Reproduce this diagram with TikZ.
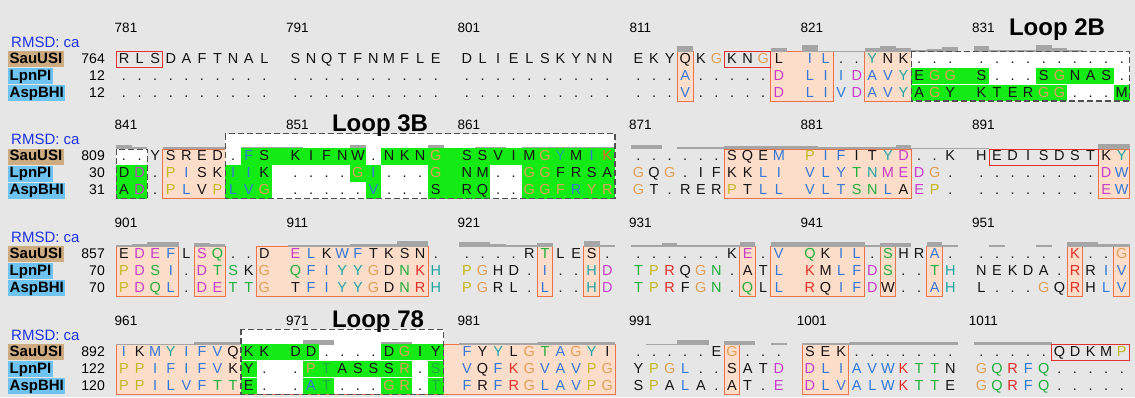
\documentclass[tikz,border=0pt]{standalone}
\usepackage{fontspec}
\setmainfont{Liberation Sans}
\definecolor{bg}{RGB}{230,230,230}
\definecolor{ck}{RGB}{20,20,20}
\definecolor{cb}{RGB}{50,120,215}
\definecolor{cm}{RGB}{200,60,200}
\definecolor{cr}{RGB}{225,45,40}
\definecolor{cg}{RGB}{30,175,60}
\definecolor{co}{RGB}{225,160,90}
\definecolor{cy}{RGB}{195,185,30}
\definecolor{ct}{RGB}{30,165,160}
\definecolor{ce}{RGB}{230,100,40}
\definecolor{peach}{RGB}{252,221,202}
\definecolor{peachline}{RGB}{235,115,75}
\definecolor{redline}{RGB}{225,50,50}
\definecolor{loopgreen}{RGB}{20,235,20}
\definecolor{bargray}{RGB}{165,165,165}
\definecolor{mytan}{RGB}{205,172,130}
\definecolor{skyb}{RGB}{110,195,240}
\definecolor{rmsdblue}{RGB}{30,50,225}
\definecolor{dashgray}{RGB}{80,80,80}
\makeatletter
\newcount\rescol
\def\seqrow#1#2#3#4{\rescol=0 \def\seq@y{#2}\def\seq@id{#1}\seq@loop#3\@end#4kkkkkkkkkk\@end}
\def\seq@loop#1#2\@end#3#4\@end{\seq@put{#1}{#3}\advance\rescol by 1 \ifx\relax#2\relax\else\seq@loop#2\@end#4\@end\fi}
\def\seq@put#1#2{\pgfmathsetmacro\seq@x{124+15.59*(\the\rescol+floor(\the\rescol/10))}\edef\seq@nm{\seq@id x\the\rescol}\node[res,text=c#2] (\seq@nm) at (\seq@x,\seq@y) {#1};}
\makeatother
\newcommand\spanlr[2]{\pgfmathsetmacro\spL{124+15.59*(#1+floor(#1/10))-7.8}\pgfmathsetmacro\spR{124+15.59*(#2+floor(#2/10))+7.8}}
\newcommand\pbox[3]{\spanlr{#2}{#3}\path[peachbox] (\spL,#1+51.5) rectangle (\spR,#1+101);}
\newcommand\rbox[3]{\spanlr{#2}{#3}\draw[redbox] (\spL,#1+51.5) rectangle (\spR,#1+67.5);}
\newcommand\gband[4]{\spanlr{#3}{#4}\fill[loopgreen] (\spL,#1+#2-12.5) rectangle (\spR,#1+#2+3.8);}
\newcommand\loopfill[4]{\spanlr{#2}{#3}\fill[white] (\spL,#1+#4) rectangle (\spR,#1+101);}
\newcommand\loopdash[4]{\spanlr{#2}{#3}\draw[loopline] (\spL,#1+#4) rectangle (\spR,#1+101);}
\newcommand\rmsdbar[4]{\spanlr{#2}{#3}\fill[bargray] (\spL,#1+51.5-#4) rectangle (\spR,#1+51.5);}
\newcommand\linehead[6]{%
  \foreach \k in {0,...,5}{\pgfmathtruncatemacro\rnum{#2+10*\k}\node[ruler] (ru#6\k) at ({126+171.49*\k},#1+32) {\rnum};}%
  \node[rmsd] (rm#6) at (11,#1+47) {RMSD: ca};
  \node[namebox,fill=mytan] (ns#6) at (8,#1+63) {SauUSI};
  \node[namebox,fill=skyb] (nl#6) at (8,#1+80) {LpnPI};
  \node[namebox,fill=skyb] (na#6) at (8,#1+97) {AspBHI};
  \node[numlab] (us#6) at (105,#1+63) {#3};
  \node[numlab] (ul#6) at (105,#1+80) {#4};
  \node[numlab] (ua#6) at (105,#1+97) {#5};}
\begin{document}
\begin{tikzpicture}[x=1pt,y=-1pt,
  res/.style={anchor=base,inner sep=0pt,font=\fontsize{14.5}{16}\selectfont},
  ruler/.style={anchor=base,inner sep=0pt,font=\fontsize{13.5}{16}\selectfont},
  looplab/.style={anchor=base,inner sep=0pt,font=\fontsize{24}{28}\selectfont\bfseries},
  namebox/.style={anchor=base west,inner xsep=1.5pt,inner ysep=1pt,text height=11pt,text depth=3pt,font=\fontsize{15}{17}\selectfont\bfseries},
  numlab/.style={anchor=base east,inner sep=0pt,font=\fontsize{14}{16}\selectfont},
  rmsd/.style={anchor=base west,inner sep=0pt,text=rmsdblue,font=\fontsize{15}{17}\selectfont},
  peachbox/.style={fill=peach,draw=peachline,line width=1pt},
  redbox/.style={draw=redline,line width=1pt},
  loopline/.style={draw=dashgray,line width=1.2pt,dash pattern=on 6pt off 3pt}]
\useasboundingbox (0,0) rectangle (1135,397);
\fill[bg] (0,0) rectangle (1135,397);
% ================= LINE 1 =================
\linehead{0}{781}{764}{12}{12}{a}
\pbox{0}{33}{33}\pbox{0}{39}{41}\pbox{0}{44}{46}
\loopfill{0}{47}{59}{51.5}
\foreach \a/\b/\h in {33/33/6,39/39/4,40/40/6.5,41/43/1,44/44/4,45/45/6,46/46/4,47/47/2,48/48/3,49/49/5,50/50/6,51/53/1.5,54/54/7,55/55/4,56/56/2}{\rmsdbar{0}{\a}{\b}{\h}}
\gband{0}{80}{47}{50}\gband{0}{80}{54}{58}
\gband{0}{97}{47}{55}\gband{0}{97}{59}{59}
\rbox{0}{0}{2}\rbox{0}{36}{38}
\loopdash{0}{47}{59}{51.5}
\seqrow{sa}{63}{RLSDAFTNAL SNQTFNMFLE DLIELSKYNN EKYQKGKNGL IL..YNK... ..........}{kkkkkkkkkk kkkkkkkkkk kkkkkkkkkk kkkkkokkok bbkktkkkkk kkkkkkkkkk}
\seqrow{la}{80}{.......... .......... .......... ...A.....D LIIDAVYEGG S...SGNAS.}{kkkkkkkkkk kkkkkkkkkk kkkkkkkkkk kkkbkkkkkm bbbmbbtkoo kkkkkokkkk}
\seqrow{aa}{97}{.......... .......... .......... ...V.....D LIVDAVYAGY KTERGG...M}{kkkkkkkkkk kkkkkkkkkk kkkkkkkkkk kkkbkkkkkm bbbmbbtkok kkkkookkkk}
\node[looplab] (loop2b) at (1057,35) {Loop 2B};
% ================= LINE 2 =================
\def\Y{97.7}
\linehead{\Y}{841}{809}{30}{31}{b}
\loopfill{\Y}{0}{1}{51.5}
\pbox{\Y}{3}{6}
\loopfill{\Y}{7}{29}{36}
\pbox{\Y}{36}{46}\pbox{\Y}{58}{59}
\foreach \a/\b/\h in {0/0/4,1/1/2,3/6/2,8/10/2,14/14/4,16/17/1.5,19/19/4,21/22/2,24/29/2,30/31/4,33/35/2,36/40/3,41/45/2,46/46/4,47/50/1,58/59/5}{\rmsdbar{\Y}{\a}{\b}{\h}}
\gband{\Y}{80}{0}{1}\gband{\Y}{97}{0}{1}
\gband{\Y}{63}{8}{14}\gband{\Y}{63}{16}{29}
\gband{\Y}{80}{7}{9}\gband{\Y}{80}{14}{15}\gband{\Y}{80}{19}{21}\gband{\Y}{80}{24}{29}
\gband{\Y}{97}{7}{9}\gband{\Y}{97}{15}{15}\gband{\Y}{97}{19}{21}\gband{\Y}{97}{24}{29}
\rbox{\Y}{51}{57}
\loopdash{\Y}{0}{1}{51.5}\loopdash{\Y}{7}{29}{36}
\seqrow{sb}{\Y+63}{..YSRED.FS KIFNW.NKNG SSVIMGYMIK ......SQEM PIFITYD..K HEDISDSTKY}{kkkkkkkkbk kkkkkkkkko kkkkkotkbe kkkkkkkkkb ybbkktmkkk kkkkkkkkkt}
\seqrow{lb}{\Y+80}{DD.PISKIIK ....GI...G NM..GGFRSA GQG.IFKKLI VLYTNMEDG. ........DW}{kmkybkkbbk kkkkobkkko kkkkookkkk okokkkkkbb bbbgtmmmok kkkkkkkkmb}
\seqrow{ab}{\Y+97}{AD.PLVPLVG .....V...S RQ..GGFRYR GT.RERPTLL VLTSNLAEP. ........EW}{kmkybkybbo kkkkkbkkkk kkkkooobo o okkkkkykbb bbbggbkmyk kkkkkkkkmb}
\node[looplab] (loop3b) at (380,\Y+34) {Loop 3B};
% ================= LINE 3 =================
\def\Y{195.4}
\linehead{\Y}{901}{857}{70}{70}{c}
\pbox{\Y}{0}{3}\pbox{\Y}{5}{6}\pbox{\Y}{9}{18}\pbox{\Y}{25}{25}\pbox{\Y}{28}{28}\pbox{\Y}{37}{37}\pbox{\Y}{39}{43}\pbox{\Y}{45}{45}\pbox{\Y}{48}{48}\pbox{\Y}{56}{56}\pbox{\Y}{59}{59}
\foreach \a/\b/\h in {0/0/2,1/1/3,2/3/5,5/5/4,6/6/3,10/10/2,11/12/1.5,13/13/2,14/16/3,17/18/6,20/21/5,22/22/3,23/24/1.5,25/25/4,28/28/6,29/29/1.5,30/31/2,32/32/3.5,33/35/2,36/36/2,37/37/5,39/43/4.5,44/44/2,45/46/4,48/48/5,49/49/2,51/51/2,54/54/1.5,56/57/5,58/59/3}{\rmsdbar{\Y}{\a}{\b}{\h}}
\seqrow{sc}{\Y+63}{EDEFLSQ..D ELKWFTKSN. ....RTLES. ......KE.V QKIL.SHRA. ......K..G}{kmmbkmgkkk mbkbbkkkkk kkkkkgkkkk kkkkkkkmkb gkbbkgkkbk kkkkkkrkko}
\seqrow{lc}{\Y+80}{PDSI.DTSKG QFIYYGDNKH PGHD.I..HD TPRQGN.ATL KMLFDS..TH NEKDA.RRIV}{ymgbkmggko gbbttokgrt yokkkbkktm gyrkogkkkb rkbbmgkkgt kkkkkkrkbb}
\seqrow{ac}{\Y+97}{PDQL.DETTG TFIYYGDNRH PGRL.L..HD TPRFGN.QLL RQIFDW..AH L...GQRHLV}{ymgbkmmggo kbbttokgrt yokkkbkktm gyrkogkgkb rkbbmkkkbt kkkkokrkbb}
% ================= LINE 4 =================
\def\Y{293.1}
\linehead{\Y}{961}{892}{122}{120}{d}
\pbox{\Y}{0}{29}\pbox{\Y}{36}{36}\pbox{\Y}{40}{42}
\loopfill{\Y}{8}{19}{36}
\foreach \a/\b/\h in {0/4/1,5/7/3,8/9/1,11/12/5,16/17/3,20/24/1.5,25/29/2.5,31/32/1,33/34/5,36/37/4,39/39/2,40/42/2,43/49/3,50/54/3}{\rmsdbar{\Y}{\a}{\b}{\h}}
\gband{\Y}{63}{8}{11}\gband{\Y}{63}{16}{19}
\gband{\Y}{80}{8}{8}\gband{\Y}{80}{11}{17}\gband{\Y}{80}{19}{19}
\gband{\Y}{97}{8}{8}\gband{\Y}{97}{11}{12}\gband{\Y}{97}{16}{17}\gband{\Y}{97}{19}{19}
\rbox{\Y}{55}{59}
\loopdash{\Y}{8}{19}{36}
\seqrow{sd}{\Y+63}{IKMYIFVQKK DD....DGIY FYYLGTAGYI .....EG... SEK....... .....QDKMP}{bkbtbbbkkk kkkkkkkokk bktkogbotk kkkkkkokkk kkkkkkkkkk kkkkkkkkky}
\seqrow{ld}{\Y+80}{PPIFIFVKY. .PTASSSR.S VQFKGVAVPG YPGL..SATD DLIAVWKTTN GQRFQ.....}{yybbbbbkkk kogkkkkokg bkbrobbbyo kyobkkkkkm mbbbbbrggk ogrbgkkkkk}
\seqrow{ad}{\Y+97}{PPILVFTTE. .AT...GR.T FRFRGLAVPG SPALA.AT.E DLVALWKTTE GQRFQ.....}{yybbbbggkk kbgkkkookg bkbrobbbyo kykbkkkkkm mbbbbbrggk ogrbgkkkkk}
\node[looplab] (loop78) at (378,\Y+34) {Loop 78};
\end{tikzpicture}
\end{document}
